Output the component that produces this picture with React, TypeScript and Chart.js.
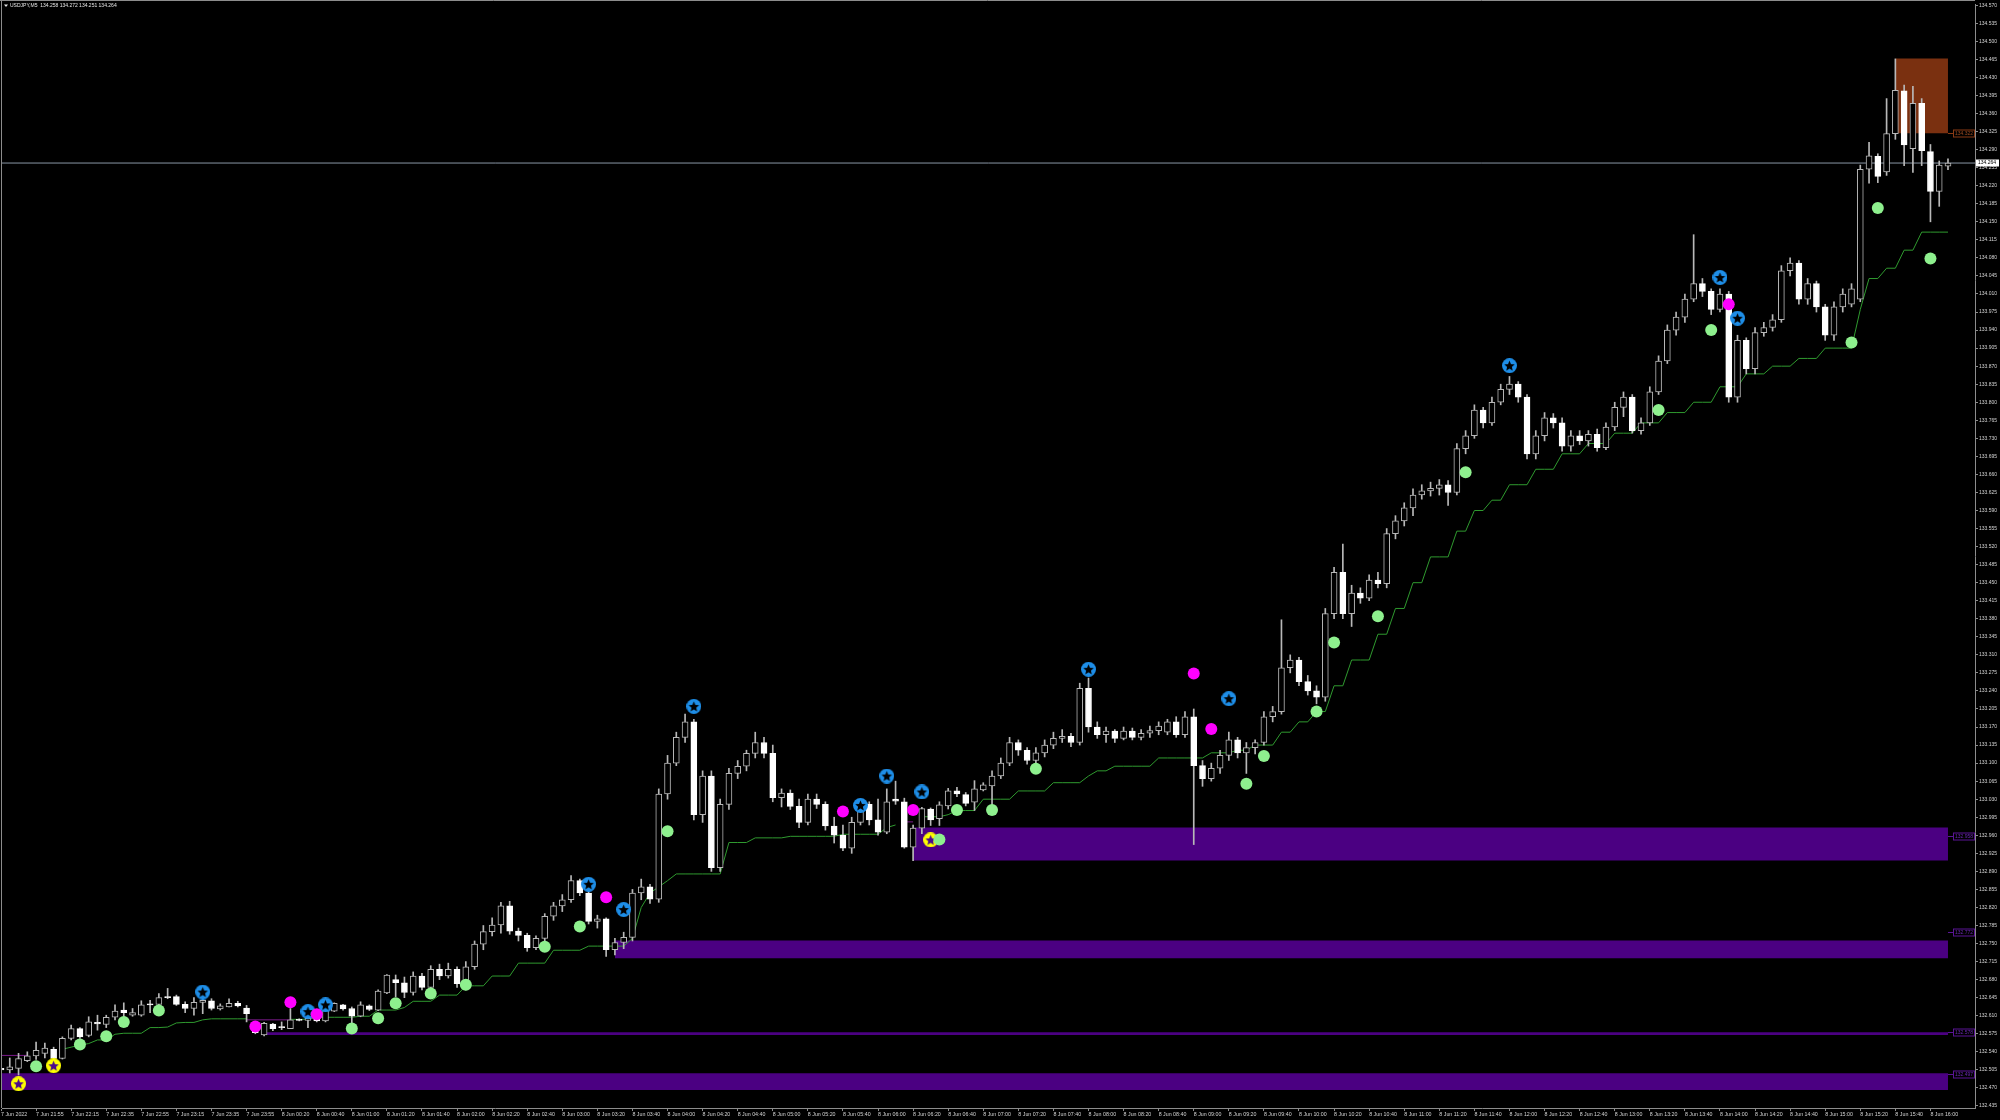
import React, { useEffect, useRef } from 'react';
import { Chart, registerables } from 'chart.js';

Chart.register(...registerables);

const symbol = 'USDJPY,M5';

const openP = [
  132.508,132.505,132.508,132.523,132.532,132.537,132.545,132.527,132.566,132.585,
  132.572,132.597,132.593,132.607,132.621,132.611,132.611,132.633,132.632,132.647,
  132.647,132.632,132.624,132.636,132.639,132.623,132.627,132.634,132.625,132.582,
  132.573,132.594,132.589,132.585,132.603,132.601,132.605,132.600,132.619,132.631,
  132.624,132.609,132.629,132.621,132.654,132.680,132.674,132.655,132.687,132.665,
  132.700,132.687,132.700,132.672,132.705,132.749,132.773,132.786,132.823,132.774,
  132.766,132.742,132.760,132.803,132.823,132.835,132.872,132.848,132.793,132.798,
  132.738,132.752,132.762,132.848,132.860,132.836,133.040,133.100,133.150,133.180,
  133.000,133.075,132.897,133.020,133.080,133.094,133.119,133.140,133.119,133.033,
  133.042,133.016,132.985,133.030,133.020,132.978,132.960,132.935,132.985,133.020,
  132.990,132.966,133.030,133.025,132.937,132.974,133.011,132.992,133.017,133.046,
  133.039,133.024,133.048,133.056,133.075,133.100,133.140,133.125,133.105,133.120,
  133.135,133.148,133.152,133.140,133.245,133.170,133.155,133.162,133.148,133.162,
  133.150,133.158,133.163,133.160,133.180,133.155,133.190,133.095,133.070,133.090,
  133.115,133.145,133.120,133.130,133.140,133.190,133.200,133.285,133.300,133.258,
  133.240,133.228,133.390,133.470,133.390,133.430,133.420,133.455,133.448,133.545,
  133.570,133.595,133.620,133.628,133.633,133.640,133.625,133.710,133.735,133.785,
  133.760,133.800,133.825,133.835,133.810,133.700,133.735,133.770,133.760,133.715,
  133.735,133.725,133.738,133.712,133.752,133.790,133.810,133.745,133.760,133.820,
  133.880,133.940,133.965,134.000,134.030,134.015,133.980,134.010,133.810,133.920,
  133.865,133.935,133.945,133.960,134.055,134.070,134.000,134.030,133.985,133.930,
  133.985,133.990,134.000,134.252,134.277,134.247,134.321,134.404,134.292,134.380,
  134.286,134.209,134.258
];

const highP = [
  132.510,132.528,132.537,132.540,132.559,132.557,132.549,132.569,132.592,132.587,
  132.608,132.611,132.611,132.631,132.635,132.624,132.639,132.640,132.653,132.663,
  132.650,132.637,132.645,132.656,132.643,132.633,132.643,132.638,132.630,132.584,
  132.597,132.595,132.598,132.624,132.604,132.611,132.606,132.637,132.635,132.632,
  132.627,132.637,132.631,132.660,132.690,132.689,132.685,132.695,132.692,132.707,
  132.710,132.712,132.705,132.715,132.755,132.785,132.800,132.830,132.832,132.780,
  132.770,132.765,132.808,132.830,132.845,132.882,132.875,132.852,132.805,132.800,
  132.760,132.772,132.855,132.875,132.865,133.050,133.115,133.160,133.195,133.185,
  133.085,133.085,133.030,133.090,133.105,133.125,133.160,133.150,133.135,133.050,
  133.048,133.030,133.040,133.040,133.025,132.995,132.980,132.995,133.030,133.025,
  133.030,133.050,133.065,133.032,132.980,133.014,133.013,133.025,133.051,133.053,
  133.043,133.066,133.062,133.085,133.110,133.150,133.145,133.130,133.130,133.145,
  133.160,133.165,133.158,133.255,133.265,133.180,133.170,133.165,133.170,133.168,
  133.165,133.172,133.180,133.185,133.190,133.200,133.205,133.105,133.100,133.125,
  133.160,133.150,133.140,133.145,133.200,133.210,133.378,133.310,133.305,133.270,
  133.250,133.400,133.480,133.525,133.445,133.440,133.465,133.470,133.555,133.580,
  133.605,133.632,133.640,133.645,133.650,133.648,133.720,133.745,133.795,133.790,
  133.810,133.835,133.850,133.840,133.815,133.745,133.780,133.778,133.770,133.745,
  133.745,133.745,133.748,133.760,133.800,133.820,133.815,133.770,133.830,133.890,
  133.950,133.975,134.010,134.125,134.040,134.020,134.020,134.015,133.930,133.925,
  133.945,133.955,133.970,134.065,134.080,134.075,134.040,134.035,133.990,133.995,
  134.020,134.030,134.260,134.304,134.282,134.389,134.466,134.415,134.413,134.389,
  134.300,134.268,134.272
];

const lowP = [
  132.503,132.499,132.495,132.521,132.525,132.528,132.525,132.526,132.563,132.566,
  132.569,132.582,132.587,132.602,132.608,132.609,132.609,132.616,132.631,132.643,
  132.630,132.616,132.611,132.614,132.621,132.621,132.627,132.627,132.598,132.575,
  132.571,132.581,132.583,132.585,132.600,132.587,132.598,132.598,132.618,132.621,
  132.592,132.608,132.620,132.620,132.653,132.647,132.645,132.650,132.660,132.658,
  132.680,132.683,132.665,132.660,132.700,132.738,132.765,132.770,132.768,132.755,
  132.735,132.738,132.755,132.795,132.812,132.830,132.843,132.788,132.780,132.725,
  132.728,132.740,132.755,132.835,132.828,132.830,133.030,133.095,133.140,132.990,
  132.985,132.890,132.890,133.010,133.070,133.085,133.110,133.110,133.025,133.015,
  133.010,132.975,132.980,133.012,132.970,132.945,132.930,132.925,132.980,132.980,
  132.960,132.963,133.020,132.935,132.911,132.963,132.979,132.979,133.011,133.035,
  133.017,133.008,133.046,133.011,133.070,133.095,133.115,133.098,133.100,133.112,
  133.128,133.140,133.132,133.135,133.160,133.148,133.140,133.140,133.145,133.145,
  133.145,133.150,133.155,133.155,133.150,133.150,132.942,133.055,133.065,133.080,
  133.105,133.110,133.080,133.118,133.135,133.180,133.195,133.275,133.250,133.232,
  133.215,133.220,133.380,133.380,133.365,133.410,133.415,133.440,133.440,133.535,
  133.560,133.580,133.612,133.618,133.620,133.600,133.620,133.700,133.730,133.750,
  133.755,133.795,133.815,133.800,133.690,133.690,133.725,133.750,133.705,133.705,
  133.718,133.715,133.705,133.708,133.745,133.772,133.740,133.738,133.755,133.815,
  133.875,133.930,133.955,133.995,134.005,133.970,133.975,133.800,133.800,133.855,
  133.855,133.928,133.938,133.955,134.045,133.990,133.990,133.975,133.920,133.920,
  133.975,133.985,133.995,134.225,134.226,134.240,134.310,134.259,134.246,134.259,
  134.150,134.180,134.251
];

const closeP = [
  132.505,132.511,132.527,132.532,132.543,132.547,132.527,132.566,132.585,132.569,
  132.598,132.594,132.607,132.619,132.616,132.616,132.631,132.631,132.645,132.645,
  132.632,132.624,132.636,132.640,132.624,132.629,132.634,132.629,132.614,132.577,
  132.595,132.585,132.587,132.602,132.601,132.605,132.600,132.621,132.634,132.623,
  132.609,132.631,132.622,132.658,132.689,132.674,132.655,132.687,132.665,132.700,
  132.687,132.700,132.672,132.705,132.749,132.773,132.786,132.823,132.774,132.766,
  132.742,132.760,132.803,132.823,132.835,132.872,132.848,132.793,132.798,132.738,
  132.752,132.762,132.848,132.860,132.836,133.040,133.100,133.150,133.180,133.000,
  133.075,132.897,133.020,133.080,133.094,133.119,133.140,133.119,133.033,133.042,
  133.016,132.985,133.030,133.020,132.978,132.960,132.935,132.985,133.020,132.990,
  132.966,133.025,133.026,132.937,132.974,133.012,132.990,133.019,133.046,133.040,
  133.022,133.050,133.058,133.075,133.100,133.140,133.125,133.105,133.120,133.135,
  133.148,133.152,133.140,133.245,133.170,133.155,133.162,133.148,133.162,133.150,
  133.158,133.163,133.172,133.180,133.155,133.190,133.095,133.070,133.090,133.115,
  133.145,133.120,133.130,133.140,133.190,133.200,133.285,133.300,133.258,133.240,
  133.228,133.390,133.470,133.390,133.430,133.420,133.455,133.448,133.545,133.570,
  133.595,133.620,133.628,133.633,133.640,133.625,133.710,133.735,133.785,133.760,
  133.800,133.825,133.835,133.810,133.700,133.735,133.770,133.760,133.715,133.735,
  133.725,133.738,133.712,133.752,133.790,133.810,133.745,133.760,133.820,133.880,
  133.940,133.965,134.000,134.030,134.015,133.980,134.010,133.810,133.920,133.865,
  133.935,133.945,133.960,134.055,134.070,134.000,134.030,133.985,133.930,133.985,
  134.010,134.020,134.252,134.278,134.238,134.321,134.405,134.299,134.380,134.288,
  134.209,134.260,134.264
];

// trailing line (green), null where the line is absent / drawn in purple
const trailLine = [
  null,null,null,null,null,null,null,132.545,132.549,132.553,
  132.556,132.563,132.563,132.574,132.576,132.576,132.576,132.587,132.587,132.588,
  132.596,132.597,132.597,132.602,132.604,132.604,132.604,132.604,132.604,null,
  null,null,null,132.603,132.603,132.603,132.607,132.607,132.607,132.607,
  132.607,132.609,132.609,132.621,132.621,132.621,132.626,132.638,132.638,132.638,
  132.650,132.650,132.650,132.668,132.668,132.668,132.687,132.687,132.687,132.712,
  132.712,132.712,132.712,132.737,132.737,132.737,132.737,132.745,132.745,132.745,
  132.745,132.745,132.760,132.820,132.848,132.860,132.872,132.885,132.885,132.885,
  132.885,132.885,132.885,132.946,132.946,132.946,132.955,132.955,132.955,132.955,
  132.958,132.958,132.958,132.958,132.958,132.958,132.962,132.962,132.962,132.962,
  132.962,132.975,132.980,null,null,132.996,132.996,132.996,133.000,133.008,
  133.008,133.008,133.030,133.030,133.030,133.030,133.046,133.046,133.046,133.046,
  133.062,133.062,133.062,133.062,133.075,133.085,133.085,133.094,133.094,133.094,
  133.094,133.094,133.110,133.110,133.110,133.110,133.110,133.110,133.120,133.120,
  133.120,133.125,133.125,133.135,133.135,133.135,133.160,133.160,133.180,133.180,
  133.200,133.200,133.250,133.250,133.300,133.300,133.300,133.350,133.350,133.400,
  133.400,133.450,133.450,133.500,133.500,133.500,133.550,133.550,133.590,133.590,
  133.610,133.610,133.640,133.640,133.640,133.670,133.670,133.670,133.700,133.700,
  133.700,133.720,133.720,133.720,133.740,133.740,133.740,133.760,133.760,133.760,
  133.780,133.780,133.780,133.800,133.800,133.800,133.830,133.830,133.830,133.855,
  133.855,133.855,133.870,133.870,133.870,133.885,133.885,133.885,133.905,133.905,
  133.905,133.905,133.980,134.040,134.040,134.060,134.060,134.095,134.095,134.130,
  134.130,134.130,134.130
];

// purple pieces of the trailing line: [fromBar, toBar, price]
const trailDownSegments = [
  [0, 3, 132.533],
  [28, 33, 132.602],
  [103, 104, 132.986]
];

// markers: [bar, price]
const greenDots = [
  [4,132.512],[9,132.554],[12,132.570],[14,132.598],[18,132.620],[40,132.585],[43,132.605],
  [45,132.634],[49,132.653],[53,132.670],[62,132.744],[66,132.783],[76,132.968],[107,132.952],
  [109,133.009],[113,133.009],[118,133.089],[142,133.060],[144,133.114],[150,133.200],
  [152,133.334],[157,133.385],[167,133.664],[189,133.785],[195,133.940],[211,133.916],
  [214,134.177],[220,134.079]
];
const magentaDots = [
  [29,132.589],[33,132.636],[36,132.613],[69,132.840],[96,133.006],[104,133.009],
  [136,133.274],[138,133.166],[197,133.990]
];
const blueStars = [
  [23,132.656],[35,132.618],[37,132.631],[67,132.865],[71,132.816],[79,133.210],[98,133.018],
  [101,133.075],[105,133.044],[124,133.282],[140,133.225],[172,133.871],[196,134.042],[198,133.963]
];
const yellowStars = [
  [2,132.478],[6,132.513],[106,132.951]
];

// demand zones (purple)
const zoneStart = [0, 30, 70, 104];
const zoneTop = [132.4985, 132.578, 132.756, 132.975];
const zoneBottom = [132.466, 132.5725, 132.7215, 132.911];
const zoneTag = [132.497, 132.578, 132.772, 132.958];
// supply zone (brown)
const supplyStart = [216];
const supplyTop = [134.467];
const supplyBottom = [134.322];
const supplyTag = [134.322];

const timeLabels = [
  '7 Jun 2022','7 Jun 21:55','7 Jun 22:15','7 Jun 22:35','7 Jun 22:55','7 Jun 23:15','7 Jun 23:35','7 Jun 23:55',
  '8 Jun 00:20','8 Jun 00:40','8 Jun 01:00','8 Jun 01:20','8 Jun 01:40','8 Jun 02:00','8 Jun 02:20','8 Jun 02:40',
  '8 Jun 03:00','8 Jun 03:20','8 Jun 03:40','8 Jun 04:00','8 Jun 04:20','8 Jun 04:40','8 Jun 05:00','8 Jun 05:20',
  '8 Jun 05:40','8 Jun 06:00','8 Jun 06:20','8 Jun 06:40','8 Jun 07:00','8 Jun 07:20','8 Jun 07:40','8 Jun 08:00',
  '8 Jun 08:20','8 Jun 08:40','8 Jun 09:00','8 Jun 09:20','8 Jun 09:40','8 Jun 10:00','8 Jun 10:20','8 Jun 10:40',
  '8 Jun 11:00','8 Jun 11:20','8 Jun 11:40','8 Jun 12:00','8 Jun 12:20','8 Jun 12:40','8 Jun 13:00','8 Jun 13:20',
  '8 Jun 13:40','8 Jun 14:00','8 Jun 14:20','8 Jun 14:40','8 Jun 15:00','8 Jun 15:20','8 Jun 15:40','8 Jun 16:00'
];
const barsPerLabel = 4;

const priceTicks = [
  134.570,134.535,134.500,134.465,134.430,134.395,134.360,134.325,134.290,134.255,
  134.220,134.185,134.150,134.115,134.080,134.045,134.010,133.975,133.940,133.905,
  133.870,133.835,133.800,133.765,133.730,133.695,133.660,133.625,133.590,133.555,
  133.520,133.485,133.450,133.415,133.380,133.345,133.310,133.275,133.240,133.205,
  133.170,133.135,133.100,133.065,133.030,132.995,132.960,132.925,132.890,132.855,
  132.820,132.785,132.750,132.715,132.680,132.645,132.610,132.575,132.540,132.505,
  132.470,132.435
];

const X_MIN = 0.114;
const X_MAX = 225.08;
const Y_MIN = 132.431;
const Y_MAX = 134.5725;

const AXIS = '#8c8c8c';
const TEXT = '#d4d4d4';
const FONT = '"Liberation Sans", Arial, sans-serif';
const PURPLE = '#4B0082';
const BROWN = '#7a3010';

function makeStarIcon(circle: string, star: string, d: number) {
  const c = document.createElement('canvas');
  c.width = d;
  c.height = d;
  const g = c.getContext('2d')!;
  const r = d / 2;
  g.fillStyle = circle;
  g.beginPath();
  g.arc(r, r, r, 0, Math.PI * 2);
  g.fill();
  g.fillStyle = star;
  g.beginPath();
  const R = r * 0.74;
  const ri = R * 0.45;
  for (let k = 0; k < 10; k++) {
    const ang = -Math.PI / 2 + (k * Math.PI) / 5;
    const rr = k % 2 === 0 ? R : ri;
    const px = r + rr * Math.cos(ang);
    const py = r + rr * Math.sin(ang) + r * 0.06;
    if (k === 0) g.moveTo(px, py);
    else g.lineTo(px, py);
  }
  g.closePath();
  g.fill();
  return c;
}

const decorPlugin = {
  id: 'decor',
  beforeDraw(chart: any) {
    const { ctx, width, height } = chart;
    ctx.save();
    ctx.fillStyle = '#000';
    ctx.fillRect(0, 0, width, height);
    ctx.restore();
  },
  afterDraw(chart: any) {
    const { ctx, chartArea: a, scales } = chart;
    const xs = scales.x;
    const ys = scales.y;
    ctx.save();
    // frame (top & left)
    ctx.strokeStyle = AXIS;
    ctx.lineWidth = 1;
    ctx.beginPath();
    ctx.moveTo(0, 0.5);
    ctx.lineTo(a.right, 0.5);
    ctx.moveTo(1.5, 0);
    ctx.lineTo(1.5, a.bottom);
    ctx.stroke();

    // title
    const n = closeP.length - 1;
    ctx.fillStyle = '#e6e6e6';
    ctx.beginPath();
    ctx.moveTo(4, 4.5);
    ctx.lineTo(8, 4.5);
    ctx.lineTo(6, 7);
    ctx.closePath();
    ctx.fill();
    ctx.font = `5px ${FONT}`;
    ctx.textBaseline = 'middle';
    ctx.textAlign = 'left';
    ctx.fillText(
      `${symbol}  ${openP[n].toFixed(3)} ${highP[n].toFixed(3)} ${lowP[n].toFixed(3)} ${closeP[n].toFixed(3)}`,
      10, 6
    );

    // zone tags
    const xEnd = xs.getPixelForValue(n);
    const boxL = Math.round(xEnd) + 5;
    const drawTag = (price: number, color: string, textColor: string) => {
      const py = Math.round(ys.getPixelForValue(price)) + 0.5;
      ctx.strokeStyle = color;
      ctx.beginPath();
      ctx.moveTo(xEnd, py);
      ctx.lineTo(boxL, py);
      ctx.stroke();
      ctx.fillStyle = '#000';
      ctx.fillRect(boxL, py - 3.5, a.right - boxL, 7);
      ctx.strokeRect(boxL + 0.5, py - 3.5, a.right - boxL - 1, 7);
      ctx.save();
      ctx.beginPath();
      ctx.rect(boxL, py - 4, a.right - boxL - 1, 8);
      ctx.clip();
      ctx.fillStyle = textColor;
      ctx.fillText(price.toFixed(3), boxL + 2, py);
      ctx.restore();
    };
    zoneTag.forEach((p) => drawTag(p, '#5a1496', '#6a28b0'));
    supplyTag.forEach((p) => drawTag(p, '#8a3a14', '#9a4a20'));

    // current price tag
    const cp = closeP[n];
    const cy = Math.round(ys.getPixelForValue(cp));
    ctx.fillStyle = '#ffffff';
    ctx.fillRect(a.right + 1, cy - 3.5, 23, 7);
    ctx.fillStyle = '#000';
    ctx.fillText(cp.toFixed(3), a.right + 3, cy);
    ctx.restore();
  }
};

export default function App() {
  const ref = useRef<HTMLCanvasElement | null>(null);

  useEffect(() => {
    if (!ref.current) return;
    const n = closeP.length;
    const idx = Array.from({ length: n }, (_, i) => i);
    const bull = idx.map((i) => closeP[i] >= openP[i]);
    const blueIcon = makeStarIcon('#1e8ee8', '#000000', 15);
    const yellowIcon = makeStarIcon('#ffff00', '#4b0a8c', 15);

    const datasets: any[] = [];

    // demand zones
    zoneStart.forEach((s, k) => {
      datasets.push({
        type: 'line',
        data: [{ x: s, y: zoneTop[k] }, { x: n - 1, y: zoneTop[k] }],
        borderWidth: 0,
        pointRadius: 0,
        backgroundColor: PURPLE,
        fill: { value: zoneBottom[k] },
        order: 100,
      });
    });
    supplyStart.forEach((s, k) => {
      datasets.push({
        type: 'line',
        data: [{ x: s, y: supplyTop[k] }, { x: n - 1, y: supplyTop[k] }],
        borderWidth: 0,
        pointRadius: 0,
        backgroundColor: BROWN,
        fill: { value: supplyBottom[k] },
        order: 100,
      });
    });

    // current price line
    datasets.push({
      type: 'line',
      data: [{ x: X_MIN, y: closeP[n - 1] }, { x: X_MAX, y: closeP[n - 1] }],
      borderColor: '#8a96a6',
      borderWidth: 1,
      pointRadius: 0,
      fill: false,
      order: 90,
    });

    // trailing line
    datasets.push({
      type: 'line',
      data: trailLine.map((v, i) => ({ x: i, y: v })),
      borderColor: '#2f9a2f',
      borderWidth: 1,
      pointRadius: 0,
      fill: false,
      spanGaps: false,
      order: 50,
    });
    trailDownSegments.forEach(([a, b, p]) => {
      datasets.push({
        type: 'line',
        data: [{ x: a, y: p }, { x: b, y: p }],
        borderColor: '#7a1a8a',
        borderWidth: 1,
        pointRadius: 0,
        fill: false,
        order: 49,
      });
    });

    // wicks
    datasets.push({
      type: 'bar',
      data: idx.map((i) => ({ x: i, y: [lowP[i], highP[i]] })),
      backgroundColor: '#b8b8b8',
      borderWidth: 0,
      barThickness: 1,
      grouped: false,
      order: 20,
    });
    // bodies
    datasets.push({
      type: 'bar',
      data: idx.map((i) => ({ x: i, y: [openP[i], closeP[i]] })),
      backgroundColor: bull.map((b) => (b ? '#000000' : '#ffffff')),
      borderColor: bull.map((b) => (b ? '#b8b8b8' : '#ffffff')),
      borderWidth: 1,
      borderSkipped: false,
      barThickness: 6,
      minBarLength: 1,
      grouped: false,
      order: 10,
    });

    // markers
    const markerSet = (pts: number[][], style: any, color: string, radius: number) => ({
      type: 'line',
      data: pts.map(([b, p]) => ({ x: b, y: p })),
      showLine: false,
      pointStyle: style,
      pointRadius: radius,
      pointBackgroundColor: color,
      pointBorderWidth: 0,
      pointBorderColor: color,
      order: 0,
    });
    datasets.push(markerSet(greenDots, 'circle', '#8ef08e', 6));
    datasets.push(markerSet(magentaDots, 'circle', '#ff00ff', 6));
    datasets.push(markerSet(blueStars, blueIcon, '#1e8ee8', 7));
    datasets.push(markerSet(yellowStars, yellowIcon, '#ffff00', 7));

    const chart = new Chart(ref.current, {
      type: 'bar',
      data: { datasets },
      plugins: [decorPlugin],
      options: {
        responsive: false,
        animation: false,
        events: [],
        layout: { autoPadding: false, padding: { left: 2, top: 1, right: 0, bottom: 0 } },
        plugins: {
          legend: { display: false },
          tooltip: { enabled: false },
          title: { display: false },
        },
        scales: {
          x: {
            type: 'linear',
            position: 'bottom',
            min: X_MIN,
            max: X_MAX,
            offset: false,
            afterBuildTicks: (s: any) => {
              s.ticks = timeLabels.map((_, i) => ({ value: i * barsPerLabel }));
            },
            afterFit: (s: any) => {
              s.height = 12;
            },
            ticks: {
              autoSkip: false,
              maxRotation: 0,
              minRotation: 0,
              align: 'start',
              padding: 0,
              color: TEXT,
              font: { family: FONT, size: 5.3 },
              callback: (_v: any, i: number) => timeLabels[i],
            },
            grid: { offset: false, drawOnChartArea: false, drawTicks: true, tickLength: 3, color: AXIS },
            border: { display: true, color: AXIS },
          },
          y: {
            type: 'linear',
            position: 'right',
            min: Y_MIN,
            max: Y_MAX,
            afterBuildTicks: (s: any) => {
              s.ticks = priceTicks.map((v) => ({ value: v }));
            },
            afterFit: (s: any) => {
              s.width = 25;
            },
            ticks: {
              autoSkip: false,
              padding: 1,
              color: TEXT,
              font: { family: FONT, size: 5 },
              callback: (v: any) => Number(v).toFixed(3),
            },
            grid: { drawOnChartArea: false, drawTicks: true, tickLength: 3, color: AXIS },
            border: { display: true, color: AXIS },
          },
        },
      } as any,
    });
    return () => chart.destroy();
  }, []);

  return (
    <div style={{ position: 'fixed', left: 0, top: 0, width: 2000, height: 1120, background: '#000' }}>
      <canvas ref={ref} width={2000} height={1120} style={{ display: 'block' }} />
    </div>
  );
}
